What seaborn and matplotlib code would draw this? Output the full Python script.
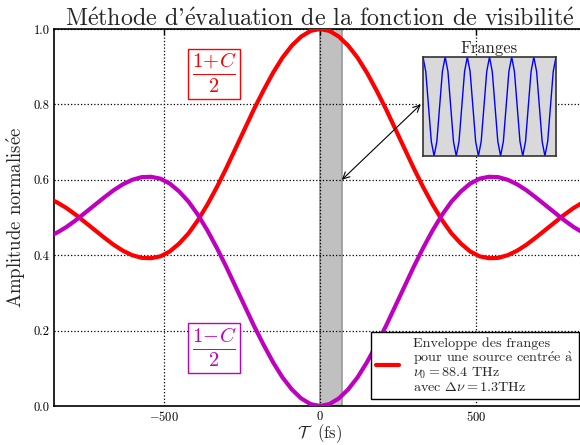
import matplotlib
matplotlib.use("Agg")
import matplotlib.pyplot as plt
import seaborn as sns
import pandas as pd
from matplotlib.lines import Line2D

# Delay axis (fs) and the two normalised fringe envelopes
tau = [-870, -840, -810, -780, -750, -720, -690, -660, -630, -600, -570, -540,
       -510, -480, -450, -420, -390, -360, -330, -300, -270, -240, -210, -180,
       -150, -120, -90, -60, -30, 0, 30, 60, 90, 120, 150, 180, 210, 240, 270,
       300, 330, 360, 390, 420, 450, 480, 510, 540, 570, 600, 630, 660, 690,
       720, 750, 780, 810, 840, 870]
upper = [0.552, 0.540, 0.525, 0.507, 0.487, 0.467, 0.447, 0.428, 0.412, 0.400,
         0.393, 0.392, 0.397, 0.410, 0.431, 0.458, 0.493, 0.534, 0.580, 0.630,
         0.683, 0.736, 0.789, 0.838, 0.884, 0.924, 0.956, 0.980, 0.995, 1.000,
         0.995, 0.980, 0.956, 0.924, 0.884, 0.838, 0.789, 0.736, 0.683, 0.630,
         0.580, 0.534, 0.493, 0.458, 0.431, 0.410, 0.397, 0.392, 0.393, 0.400,
         0.412, 0.428, 0.447, 0.467, 0.487, 0.507, 0.525, 0.540, 0.552]
lower = [0.448, 0.460, 0.475, 0.493, 0.513, 0.533, 0.553, 0.572, 0.588, 0.600,
         0.607, 0.608, 0.603, 0.590, 0.569, 0.542, 0.507, 0.466, 0.420, 0.370,
         0.317, 0.264, 0.211, 0.162, 0.116, 0.076, 0.044, 0.020, 0.005, 0.000,
         0.005, 0.020, 0.044, 0.076, 0.116, 0.162, 0.211, 0.264, 0.317, 0.370,
         0.420, 0.466, 0.507, 0.542, 0.569, 0.590, 0.603, 0.608, 0.607, 0.600,
         0.588, 0.572, 0.553, 0.533, 0.513, 0.493, 0.475, 0.460, 0.448]

# Fringe pattern shown in the inset (8 samples per period, 6 periods)
fringe_x = list(range(49))
fringe_y = [1, 0.707, 0, -0.707, -1, -0.707, 0, 0.707,
            1, 0.707, 0, -0.707, -1, -0.707, 0, 0.707,
            1, 0.707, 0, -0.707, -1, -0.707, 0, 0.707,
            1, 0.707, 0, -0.707, -1, -0.707, 0, 0.707,
            1, 0.707, 0, -0.707, -1, -0.707, 0, 0.707,
            1, 0.707, 0, -0.707, -1, -0.707, 0, 0.707,
            1]

x_ticks = [-500, 0, 500]
y_ticks = [0.0, 0.2, 0.4, 0.6, 0.8, 1.0]
window = (0, 70)

# accented letters composed with Computer Modern mathtext
E_ACUTE = r"$\acute{\mathrm{e}}$"
A_GRAVE = r"$\grave{\mathrm{a}}$"

sns.set_theme(style="white")
plt.rcParams["font.family"] = ["cmr10", "DejaVu Serif"]
plt.rcParams["mathtext.fontset"] = "cm"
plt.rcParams["axes.formatter.use_mathtext"] = True

df = pd.DataFrame({"tau": tau, "upper": upper, "lower": lower})

fig = plt.figure(figsize=(5.8, 4.45), dpi=100)
ax = fig.add_axes([54 / 580, 39 / 445, 532 / 580, 377 / 445])

ax.axvspan(*window, facecolor="#c0c0c0", edgecolor="#9a9a9a", lw=1.2, zorder=0.3)
sns.lineplot(data=df, x="tau", y="upper", color="red", lw=3, ax=ax, zorder=3)
sns.lineplot(data=df, x="tau", y="lower", color="#bf00bf", lw=3, ax=ax, zorder=3)

ax.set_xlim(-850, 850)
ax.set_ylim(0, 1)
ax.set_xticks(x_ticks)
ax.set_yticks(y_ticks)
ax.set_yticklabels([f"{v:.1f}" for v in y_ticks])
ax.tick_params(direction="in", top=True, right=True, labelsize=9, length=4,
               width=1, colors="black", pad=3)
ax.grid(True, color="black", ls=":", lw=0.9)
for s in ax.spines.values():
    s.set_color("black")
    s.set_linewidth(1.2)

ax.set_title(f"M{E_ACUTE}thode d'{E_ACUTE}valuation de la fonction de visibilit{E_ACUTE}",
             fontsize=17.3, pad=2)
ax.set_xlabel(r"$\mathcal{T}$  (fs)", fontsize=12, va="center")
ax.xaxis.set_label_coords(0.5, -0.072)
ax.set_ylabel(f"Amplitude normalis{E_ACUTE}e", fontsize=13.5, labelpad=4)

ax.text(-338, 0.881, r"$\frac{1\!+\!C}{2}$", color="red", fontsize=21,
        ha="center", va="center", zorder=5,
        bbox=dict(boxstyle="square,pad=0.12", facecolor="white", edgecolor="red", lw=1))
ax.text(-338, 0.154, r"$\frac{1\!-\!C}{2}$", color="#bf00bf", fontsize=21,
        ha="center", va="center", zorder=5,
        bbox=dict(boxstyle="square,pad=0.12", facecolor="white", edgecolor="#bf00bf", lw=1))

ax.annotate("", xy=(70, 0.6), xytext=(322, 0.8),
            arrowprops=dict(arrowstyle="<->", color="black", lw=0.8,
                            shrinkA=0, shrinkB=0), zorder=6)

handle = Line2D([], [], color="red", lw=3)
leg = ax.legend([handle],
                ["Enveloppe des franges\n"
                 f"pour une source centr{E_ACUTE}e {A_GRAVE}\n"
                 r"$\nu_0 = 88.4$ THz" "\n" r"avec $\Delta\nu = 1.3$THz"],
                loc="lower right", fontsize=10.2, fancybox=False, framealpha=1,
                edgecolor="black", handlelength=1.6, borderpad=0.35,
                handletextpad=1.0)
for t in leg.get_texts():
    t.set_linespacing(0.95)
leg.get_frame().set_linewidth(1.0)
leg.set_zorder(7)

# Inset with the fringes
ins = fig.add_axes([423 / 580, 289 / 445, 133 / 580, 99 / 445])
ins.set_facecolor("#d9d9d9")
sns.lineplot(x=fringe_x, y=fringe_y, color="blue", lw=1, ax=ins)
ins.set_xlim(0, 48)
ins.set_ylim(-1.0, 1.0)
ins.set_xticks([])
ins.set_yticks([])
ins.set_xlabel("")
ins.set_ylabel("")
for s in ins.spines.values():
    s.set_color("#333333")
    s.set_linewidth(1.2)
ins.set_title("Franges", fontsize=12, pad=3)

fig.savefig("out.png", dpi=100)
